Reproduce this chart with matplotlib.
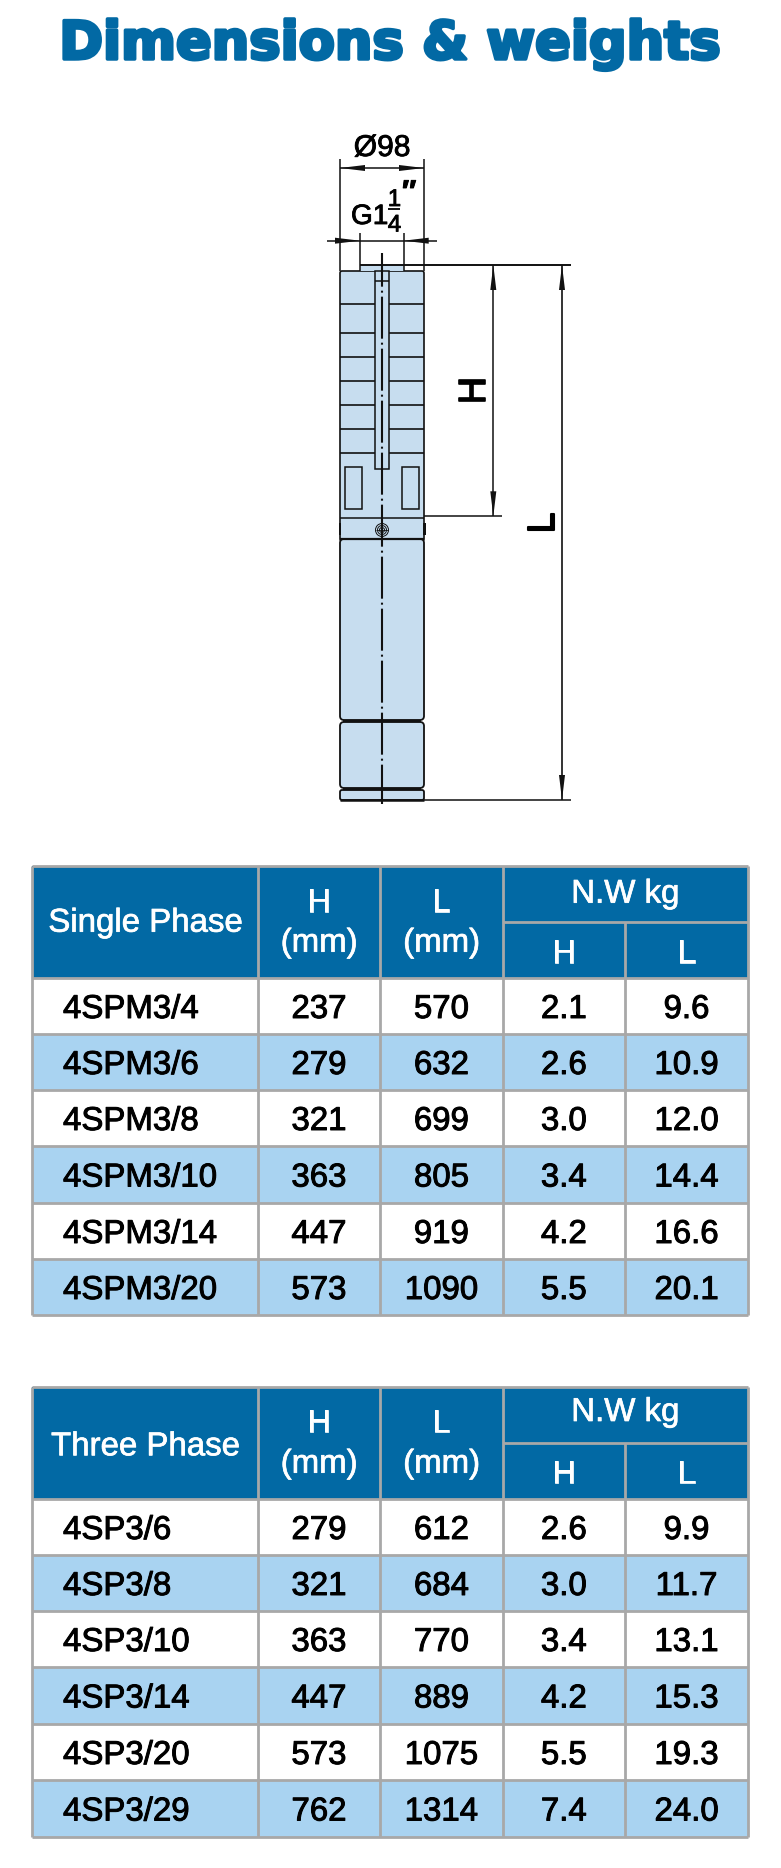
import matplotlib
matplotlib.use("Agg")
import matplotlib.pyplot as plt
import matplotlib.patheffects as pe
from matplotlib.patches import Rectangle, Polygon, Circle, FancyBboxPatch

BLUE = "#0269A4"
ROW_BLUE = "#A9D3F1"
GRID = "#A8A8A8"
PUMP = "#C7DDEF"
FONT = "Liberation Sans"

single_models = ["4SPM3/4", "4SPM3/6", "4SPM3/8", "4SPM3/10", "4SPM3/14", "4SPM3/20"]
single_h = [237, 279, 321, 363, 447, 573]
single_l = [570, 632, 699, 805, 919, 1090]
single_nw_h = [2.1, 2.6, 3.0, 3.4, 4.2, 5.5]
single_nw_l = [9.6, 10.9, 12.0, 14.4, 16.6, 20.1]

three_models = ["4SP3/6", "4SP3/8", "4SP3/10", "4SP3/14", "4SP3/20", "4SP3/29"]
three_h = [279, 321, 363, 447, 573, 762]
three_l = [612, 684, 770, 889, 1075, 1314]
three_nw_h = [2.6, 3.0, 3.4, 4.2, 5.5, 7.4]
three_nw_l = [9.9, 11.7, 13.1, 15.3, 19.3, 24.0]

col_x = [32.4, 257.7, 380.2, 502.6, 625, 748]
single_rows = [866, 978, 1034, 1090, 1146, 1203, 1259, 1315]
three_rows = [1387, 1499, 1555, 1611, 1667, 1724, 1780, 1837]

fig = plt.figure(figsize=(7.81, 18.68), dpi=100)
ax = fig.add_axes([0, 0, 1, 1])
ax.set_xlim(0, 781)
ax.set_ylim(1868, 0)
ax.axis("off")


def px(size):
    return size * 0.72


def label(x, y, s, size=33, color="black", ha="center", stroke=0.7, **kw):
    t = ax.text(x, y, s, fontsize=px(size), color=color, ha=ha, va="baseline",
                family=kw.pop("family", FONT), zorder=6, **kw)
    if stroke:
        t.set_path_effects([pe.withStroke(linewidth=stroke, foreground=color)])
    return t


def draw_table(rows, title, models, h, l, nw_h, nw_l, base):
    x0, x1, x2, x3, x4, x5 = col_x
    top, head = rows[0], rows[1]
    split = top + 56
    ax.add_patch(Rectangle((x0, top), x5 - x0, head - top, fc=BLUE, ec="none"))
    for i, m in enumerate(models):
        y0, y1 = rows[i + 1], rows[i + 2]
        fc = ROW_BLUE if i % 2 else "white"
        ax.add_patch(Rectangle((x0, y0), x5 - x0, y1 - y0, fc=fc, ec="none"))
        yb = (y0 + y1) / 2 + 12
        label(63, yb, m, ha="left")
        label((x1 + x2) / 2, yb, str(h[i]))
        label((x2 + x3) / 2, yb, str(l[i]))
        label((x3 + x4) / 2, yb, f"{nw_h[i]:.1f}")
        label((x4 + x5) / 2, yb, f"{nw_l[i]:.1f}")
    for y in rows:
        ax.plot([x0, x5], [y, y], color=GRID, lw=2, solid_capstyle="butt", zorder=4)
    ax.plot([x3, x5], [split, split], color=GRID, lw=2, solid_capstyle="butt", zorder=4)
    for x in (x0, x1, x2, x3, x5):
        ax.plot([x, x], [top, rows[-1]], color=GRID, lw=2, solid_capstyle="butt", zorder=4)
    ax.plot([x4, x4], [split, rows[-1]], color=GRID, lw=2, solid_capstyle="butt", zorder=4)
    # header text
    label(145.5, base["title"], title, color="white", stroke=0.5)
    label((x1 + x2) / 2, base["h"], "H", color="white", stroke=0.5)
    label((x2 + x3) / 2, base["h"], "L", color="white", stroke=0.5)
    label((x1 + x2) / 2, base["mm"], "(mm)", color="white", stroke=0.5)
    label((x2 + x3) / 2, base["mm"], "(mm)", color="white", stroke=0.5)
    label((x3 + x5) / 2, base["nw"], "N.W kg", color="white", stroke=0.5)
    label((x3 + x4) / 2, base["sub"], "H", color="white", stroke=0.5)
    label((x4 + x5) / 2, base["sub"], "L", color="white", stroke=0.5)


def line(xs, ys, lw=1.1, z=3, **kw):
    ax.plot(xs, ys, color="#111111", lw=lw, solid_capstyle="butt", zorder=z, **kw)


def arrow(tip_x, tip_y, dx, dy, length=25, half=3):
    # long thin drafting arrow head, (dx, dy) points from the base to the tip
    bx, by = tip_x - dx * length, tip_y - dy * length
    pts = [(tip_x, tip_y), (bx - dy * half, by - dx * half), (bx + dy * half, by + dx * half)]
    ax.add_patch(Polygon(pts, closed=True, fc="#111111", ec="none", zorder=5))


def draw_pump():
    left, right, cx = 340, 424, 382
    # body sections
    ax.add_patch(FancyBboxPatch((left, 271), right - left, 270, boxstyle="round,pad=0,rounding_size=2",
                                fc=PUMP, ec="#111111", lw=1.2, zorder=2))
    ax.add_patch(FancyBboxPatch((left, 539), right - left, 181, boxstyle="round,pad=0,rounding_size=4",
                                fc=PUMP, ec="#111111", lw=1.3, zorder=2))
    ax.add_patch(FancyBboxPatch((left, 722), right - left, 66, boxstyle="round,pad=0,rounding_size=4",
                                fc=PUMP, ec="#111111", lw=1.3, zorder=2))
    ax.add_patch(FancyBboxPatch((left, 790), right - left, 10, boxstyle="round,pad=0,rounding_size=2",
                                fc=PUMP, ec="#111111", lw=1.3, zorder=2))
    line([left + 3, right - 3], [720.8, 720.8], lw=1.6)
    line([left + 3, right - 3], [789, 789], lw=1.6)
    line([left, right], [800, 800], lw=1.8)
    # discharge nub
    ax.add_patch(Rectangle((360, 265), 44, 6, fc=PUMP, ec="none", zorder=2))
    line([360, 360], [232.7, 271])
    line([403.7, 403.7], [232.7, 271])
    # stage lines
    for y in (304, 332.7, 357, 381, 405, 429, 453):
        line([left, right], [y, y], lw=1.2)
    # cable guard
    ax.add_patch(Rectangle((375, 271), 14, 198, fc=PUMP, ec="#111111", lw=1.1, zorder=3))
    line([375, 389], [281, 281])
    # inlet windows
    ax.add_patch(Rectangle((344.7, 467.3), 17.3, 42, fc="none", ec="#111111", lw=1.1, zorder=3))
    ax.add_patch(Rectangle((402, 467.3), 17.3, 42, fc="none", ec="#111111", lw=1.1, zorder=3))
    # coupling
    line([left, right], [518.3, 518.3], lw=1.1)
    line([left, right], [539, 539], lw=1.6)
    ax.add_patch(Rectangle((338.5, 522.7), 2.5, 12.5, fc="#111111", ec="none", zorder=3))
    ax.add_patch(Rectangle((423, 522.7), 2.5, 12.5, fc="#111111", ec="none", zorder=3))
    for r in (6.5, 4.5, 2.5):
        ax.add_patch(Circle((cx, 530), r, fc="none", ec="#111111", lw=0.7, zorder=4))
    line([cx - 6, cx + 6], [530, 530], lw=0.6, z=4)
    # center line, dash pattern in units of line width
    w = 1.5 * 100 / 72
    ax.plot([cx, cx], [252.7, 804], color="#111111", lw=1.5, zorder=4, dash_capstyle="butt",
            linestyle=(4, (42 / w, 4 / w, 2 / w, 4 / w)))

    # diameter dimension
    line([left, left], [159, 271])
    line([right, right], [159, 271])
    line([left, right], [168, 168])
    arrow(left, 168, -1, 0)
    arrow(right, 168, 1, 0)
    label(cx, 156, "Ø98", size=30, stroke=0.6)

    # thread dimension
    line([327, 437], [240.7, 240.7])
    arrow(360, 240.7, 1, 0)
    arrow(403.7, 240.7, -1, 0)
    label(351, 224, "G1", size=28, ha="left", stroke=0.6)
    label(394.5, 206, "1", size=24, stroke=0.6)
    line([388, 400], [209, 209], lw=1.4)
    label(394.5, 231.5, "4", size=24, stroke=0.6)
    label(407.5, 201, "″", size=30, style="italic", weight="bold")

    # height dimensions
    line([360, 570.7], [265, 265], lw=1.4)
    line([424, 502], [516.3, 516.3])
    line([424, 570.7], [800, 800])
    line([493.3, 493.3], [265, 516.3])
    line([562, 562], [265, 800], lw=1.2)
    arrow(493.3, 265, 0, -1)
    arrow(493.3, 516.3, 0, 1)
    arrow(562, 265, 0, -1)
    arrow(562, 800, 0, 1)
    label(485, 390.7, "H", size=38, rotation=90, rotation_mode="anchor", stroke=1.2)
    label(554, 523, "L", size=38, rotation=90, rotation_mode="anchor", stroke=1.5)


label(390, 59, "Dimensions & weights", size=52.7, color=BLUE, stroke=2.5, weight="bold", family="DejaVu Sans")

draw_pump()
draw_table(single_rows, "Single Phase", single_models, single_h, single_l, single_nw_h, single_nw_l,
           dict(title=931.7, h=911.7, mm=951.7, nw=902.7, sub=962.7))
draw_table(three_rows, "Three Phase", three_models, three_h, three_l, three_nw_h, three_nw_l,
           dict(title=1455.3, h=1432.3, mm=1472.7, nw=1421, sub=1483.3))

fig.savefig("out.png", dpi=100, facecolor="white")
